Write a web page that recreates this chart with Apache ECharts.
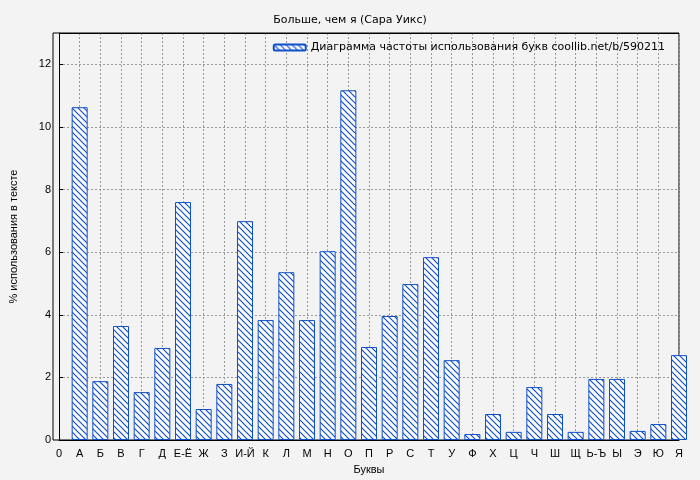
<!DOCTYPE html><html><head><meta charset="utf-8">
<script src="https://cdn.jsdelivr.net/npm/echarts@6/dist/echarts.min.js"></script>
<style>body{margin:0;background:#f3f3f3}#c{width:700px;height:480px}</style></head><body><div id="c"></div>
<script>
const categories=['0','А','Б','В','Г','Д','Е-Ё','Ж','З','И-Й','К','Л','М','Н','О','П','Р','С','Т','У','Ф','Х','Ц','Ч','Ш','Щ','Ь-Ъ','Ы','Э','Ю','Я'];
const values=[null,10.63,1.88,3.64,1.53,2.94,7.6,0.99,1.79,6.99,3.83,5.36,3.83,6.03,11.17,2.97,3.96,4.98,5.84,2.55,0.19,0.83,0.26,1.69,0.83,0.26,1.95,1.95,0.29,0.51,2.71];
const cv=document.createElement('canvas');cv.width=6;cv.height=6;
const g=cv.getContext('2d');g.fillStyle='#fff';g.fillRect(0,0,6,6);g.strokeStyle='#1050c8';g.lineWidth=1.2;
g.beginPath();g.moveTo(-1,-1);g.lineTo(7,7);g.moveTo(-1,5);g.lineTo(1,7);g.moveTo(5,-1);g.lineTo(7,1);g.stroke();
const pat={image:cv,repeat:'repeat'};
const ch=echarts.init(document.getElementById('c'));
ch.setOption({backgroundColor:'#f3f3f3',animation:false,
title:{text:'Больше, чем я (Сара Уикс)',left:'center',top:10,textStyle:{fontSize:11,fontWeight:'normal',color:'#000',fontFamily:'DejaVu Sans'}},
legend:{top:37,right:30,itemWidth:32,itemHeight:6,textStyle:{fontSize:11,color:'#000',fontFamily:'DejaVu Sans'},data:['Диаграмма частоты использования букв coollib.net/b/590211']},
grid:{left:53,right:21,top:33,bottom:40},
xAxis:{type:'category',data:categories,boundaryGap:false,name:'Буквы',nameLocation:'middle',nameGap:24,nameTextStyle:{fontSize:11,color:'#000'},
axisLine:{lineStyle:{color:'#000'}},axisTick:{show:false},axisLabel:{color:'#000',fontSize:11,interval:0},
splitLine:{show:true,lineStyle:{color:'#999',type:[2,2]}}},
yAxis:{type:'value',min:0,max:13,interval:2,name:'% использования в тексте',nameLocation:'middle',nameGap:40,nameTextStyle:{fontSize:11,color:'#000'},
axisLine:{show:true,lineStyle:{color:'#000'}},axisTick:{show:true,inside:true,length:4},axisLabel:{color:'#000',fontSize:11,showMaxLabel:false},
splitLine:{lineStyle:{color:'#999',type:[2,2]}}},
series:[{name:'Диаграмма частоты использования букв coollib.net/b/590211',type:'bar',data:values,barWidth:16,
itemStyle:{color:pat,borderColor:'#1050c8',borderWidth:1},
markLine:{silent:true,symbol:'none',label:{show:false},lineStyle:{color:'#000',type:'solid',width:1},data:[{yAxis:13}]}}],
graphic:[{type:'rect',shape:{x:53,y:33,width:626,height:407},style:{fill:'none',stroke:'#000',lineWidth:1}}]
});
</script></body></html>
